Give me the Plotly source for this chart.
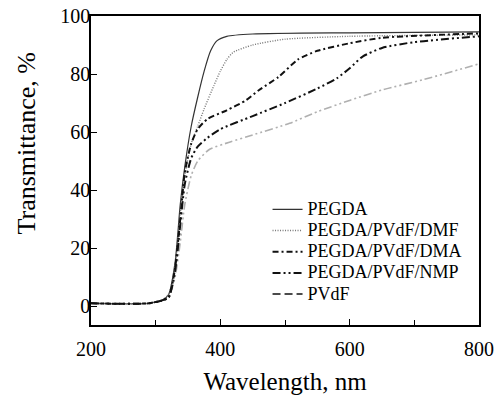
import plotly.graph_objects as go

# Wavelength (nm) and transmittance (%)
wl_pegda = [200, 250, 290, 310, 320, 330, 338, 345, 355, 365, 375, 385, 395, 410, 450, 600, 800]
t_pegda = [1.0, 0.8, 1.0, 2.0, 4, 15, 35, 48, 62, 72, 81, 88, 91.5, 93, 93.8, 94.2, 94.5]

wl_dmf = [200, 250, 290, 310, 320, 330, 338, 345, 355, 365, 375, 390, 400, 410, 420, 450, 500, 600, 800]
t_dmf = [1.0, 0.8, 1.0, 2.0, 4, 14, 32, 45, 56, 62, 68, 76, 81, 85, 87.5, 90, 92, 93, 93.5]

wl_dma = [200, 250, 290, 310, 320, 330, 338, 345, 355, 365, 380, 410, 440, 460, 490, 520, 550, 600, 650, 800]
t_dma = [1.0, 0.8, 1.0, 2.0, 3, 13, 30, 46, 56, 61, 64.5, 67.5, 71, 74.5, 79, 85, 88, 90.6, 92.5, 94]

wl_nmp = [200, 250, 290, 310, 320, 330, 338, 345, 355, 365, 380, 400, 450, 500, 550, 580, 600, 620, 650, 700, 800]
t_nmp = [1.0, 0.8, 1.0, 2.0, 3, 12, 28, 42, 51, 55, 58, 61, 65.5, 70, 75, 78.5, 82, 86, 89, 91, 93]

wl_pvdf = [200, 250, 290, 310, 320, 330, 338, 345, 355, 365, 383, 414, 450, 507, 550, 601, 650, 713, 800]
t_pvdf = [1.0, 0.8, 1.0, 2.0, 3, 10, 22, 35, 45, 50, 54, 56.5, 59, 63, 67, 71, 74.5, 78, 83.5]

x_ticks = [200, 400, 600, 800]
y_ticks = [0, 20, 40, 60, 80, 100]

SERIF = "Liberation Serif, Times New Roman, serif"

def lbl(s):
    return '<span style="font-size:18px">' + s + '</span>'

fig = go.Figure()
fig.add_trace(go.Scatter(x=wl_pvdf, y=t_pvdf, mode="lines", showlegend=False,
                         line=dict(color="#b0b0b0", width=1.6, dash="8px,3px,2px,3px,2px,3px",
                                   shape="spline", smoothing=0.6)))
fig.add_trace(go.Scatter(x=wl_pegda, y=t_pegda, mode="lines", name=lbl("PEGDA"),
                         line=dict(color="#333333", width=1.2, shape="spline", smoothing=0.6)))
fig.add_trace(go.Scatter(x=wl_dmf, y=t_dmf, mode="lines", name=lbl("PEGDA/PVdF/DMF"),
                         line=dict(color="#777777", width=1.4, dash="1px,1.5px", shape="spline", smoothing=0.6)))
fig.add_trace(go.Scatter(x=wl_dma, y=t_dma, mode="lines", name=lbl("PEGDA/PVdF/DMA"),
                         line=dict(color="#111111", width=2, dash="6px,3px,2px,3px", shape="spline", smoothing=0.6)))
fig.add_trace(go.Scatter(x=wl_nmp, y=t_nmp, mode="lines", name=lbl("PEGDA/PVdF/NMP"),
                         line=dict(color="#111111", width=2, dash="8px,3px,2px,3px,2px,3px",
                                   shape="spline", smoothing=0.6)))
fig.add_trace(go.Scatter(x=[None], y=[None], mode="lines", name=lbl("PVdF"),
                         line=dict(color="#111111", width=1.5, dash="8px,4px")))

axis_common = dict(showline=True, linecolor="black", linewidth=1.5, mirror=True,
                   ticks="inside", ticklen=6, tickcolor="black", tickwidth=1.2,
                   showgrid=False, zeroline=False, automargin=False,
                   tickfont=dict(family=SERIF, size=20, color="black"))

fig.update_xaxes(range=[200, 800], tickvals=x_ticks, ticktext=[str(v) for v in x_ticks],
                 minor=dict(ticks="inside", ticklen=5, tickcolor="black", tickwidth=1.2, dtick=100,
                            tick0=200, showgrid=False),
                 ticklabelstandoff=5,
                 title=dict(text="Wavelength, nm", font=dict(family=SERIF, size=25, color="black"),
                            standoff=16),
                 **axis_common)
fig.update_yaxes(range=[-6.5, 100], tickvals=y_ticks, ticktext=[str(v) for v in y_ticks],
                 ticklabelstandoff=-5,
                 **axis_common)

fig.update_layout(
    width=495, height=395,
    margin=dict(l=91, r=16, t=16, b=70),
    paper_bgcolor="white", plot_bgcolor="white",
    legend=dict(x=0.455, y=0.425, xanchor="left", yanchor="top",
                font=dict(family=SERIF, size=14, color="black"),
                bgcolor="rgba(0,0,0,0)", itemwidth=30, tracegroupgap=0),
    annotations=[dict(text="Transmittance, %", xref="paper", yref="paper", x=0, y=0.5,
                      xshift=-65, yshift=27, xanchor="center", yanchor="middle", textangle=-90,
                      showarrow=False, font=dict(family=SERIF, size=26, color="black"))],
)

fig.write_html("out.html")
